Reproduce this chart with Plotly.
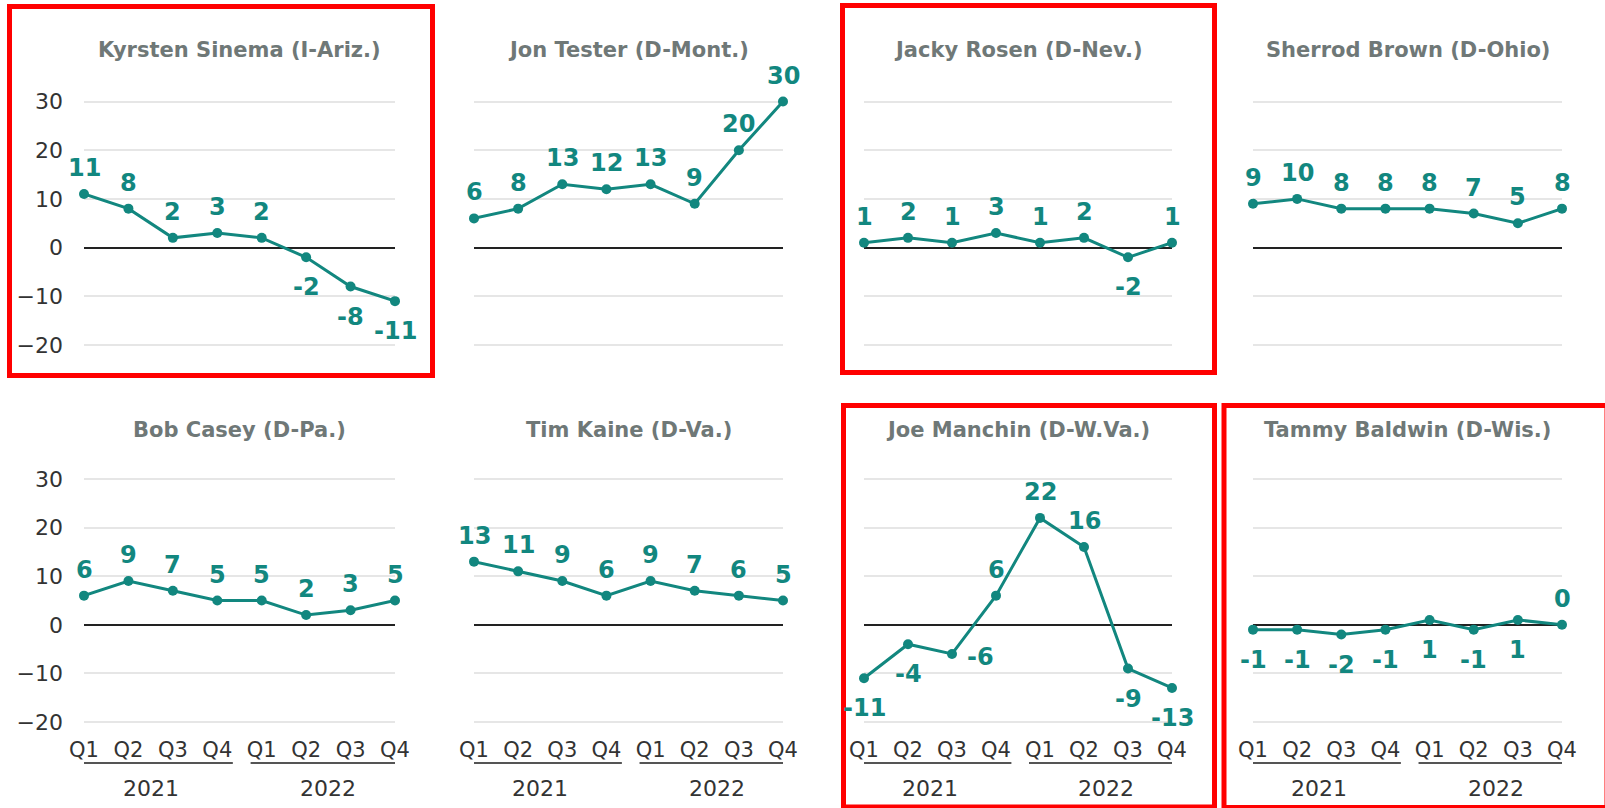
import plotly.graph_objects as go

W, H = 1605, 808

senators = ["Kyrsten Sinema (I-Ariz.)", "Jon Tester (D-Mont.)", "Jacky Rosen (D-Nev.)",
            "Sherrod Brown (D-Ohio)", "Bob Casey (D-Pa.)", "Tim Kaine (D-Va.)",
            "Joe Manchin (D-W.Va.)", "Tammy Baldwin (D-Wis.)"]

sinema = [11, 8, 2, 3, 2, -2, -8, -11]
tester = [6, 8, 13, 12, 13, 9, 20, 30]
rosen = [1, 2, 1, 3, 1, 2, -2, 1]
brown = [9, 10, 8, 8, 8, 7, 5, 8]
casey = [6, 9, 7, 5, 5, 2, 3, 5]
kaine = [13, 11, 9, 6, 9, 7, 6, 5]
manchin = [-11, -4, -6, 6, 22, 16, -9, -13]
baldwin = [-1, -1, -2, -1, 1, -1, 1, 0]

quarters = ["Q1", "Q2", "Q3", "Q4", "Q1", "Q2", "Q3", "Q4"]
years = ["2021", "2022"]
y_ticks = [-20, -10, 0, 10, 20, 30]

# label placement: 't' above, 'b' below, 'r' right
label_pos = [
    list("tttttbbb"),
    list("tttttttt"),
    list("ttttttbt"),
    list("tttttttt"),
    list("tttttttt"),
    list("tttttttt"),
    list("bbrtttbb"),
    list("bbbbbbbt"),
]

series = [sinema, tester, rosen, brown, casey, kaine, manchin, baldwin]

TEAL = "#12877f"
TITLE_GREY = "#6f7877"
FONT = "'DejaVu Sans', 'Open Sans', sans-serif"

col_px = [(84, 395), (474, 783), (864, 1172), (1253, 1562)]
row_px = [(91.8, 354.7), (469.3, 731.7)]  # top, bottom pixel of plot area
title_px = [50, 430]

fig = go.Figure()
layout = dict(
    width=W, height=H, margin=dict(l=0, r=0, t=0, b=0, autoexpand=False),
    paper_bgcolor="white", plot_bgcolor="white", showlegend=False,
    font=dict(family=FONT, color="#333333"),
)
annotations = []
shapes = []

for k, (name, vals) in enumerate(zip(senators, series)):
    r, c = divmod(k, 4)
    n = k + 1
    xa = "x" if n == 1 else f"x{n}"
    ya = "y" if n == 1 else f"y{n}"
    xkey = "xaxis" if n == 1 else f"xaxis{n}"
    ykey = "yaxis" if n == 1 else f"yaxis{n}"
    x0, x1 = col_px[c]
    yt, yb = row_px[r]
    layout[xkey] = dict(
        domain=[x0 / W, x1 / W], anchor=ya, range=[0, 7],
        showgrid=False, zeroline=False, showline=False,
        tickvals=list(range(8)), ticktext=quarters,
        showticklabels=(r == 1), ticks="", ticklabelstandoff=3,
        tickfont=dict(size=21, color="#333333", family=FONT),
        fixedrange=True, automargin=False,
    )
    layout[ykey] = dict(
        domain=[1 - yb / H, 1 - yt / H], anchor=xa, range=[-22, 32],
        tickvals=y_ticks, showgrid=True, gridcolor="#e6e6e6", gridwidth=1.5,
        zeroline=True, zerolinecolor="#222222", zerolinewidth=2,
        showline=False, showticklabels=(c == 0), ticks="",
        ticklabelstandoff=20,
        tickfont=dict(size=22, color="#333333", family=FONT),
        fixedrange=True, automargin=False,
    )
    fig.add_trace(go.Scatter(
        x=list(range(8)), y=vals, mode="lines+markers",
        line=dict(color=TEAL, width=3), marker=dict(color=TEAL, size=10),
        xaxis=xa, yaxis=ya, cliponaxis=False, hoverinfo="skip",
    ))
    # title
    annotations.append(dict(
        text=f"<b>{name}</b>", xref=f"{xa} domain", x=0.5, yref="paper",
        y=1 - title_px[r] / H, showarrow=False, xanchor="center", yanchor="middle",
        font=dict(size=21, color=TITLE_GREY, family=FONT),
    ))
    # data labels
    for i, v in enumerate(vals):
        p = label_pos[k][i]
        if p == "t":
            xs, ys = 0, 26
        elif p == "b":
            xs, ys = 0, -30
        else:
            xs, ys = 28, -3
        annotations.append(dict(
            text=f"<b>{v}</b>", x=i, y=v, xref=xa, yref=ya, showarrow=False,
            xanchor="center", yanchor="middle", xshift=xs, yshift=ys,
            font=dict(size=24, color=TEAL, family=FONT),
        ))
    # year groups
    if r == 1:
        for j, yr in enumerate(years):
            annotations.append(dict(
                text=yr, x=1.5 + 4 * j, xref=xa, y=1 - 788 / H, yref="paper",
                showarrow=False, xanchor="center", yanchor="middle",
                font=dict(size=22, color="#333333", family=FONT),
            ))
            shapes.append(dict(
                type="line", xref=xa, yref="paper", x0=4 * j - 0.25, x1=4 * j + 3.35,
                y0=1 - 763 / H, y1=1 - 763 / H, line=dict(color="#555555", width=2),
            ))

# red highlight boxes (pixel geometry)
boxes = [(9.5, 6.5, 432.5, 375.5), (842.5, 5.5, 1214.5, 372.5),
         (843.5, 405.5, 1214.5, 807.0), (1224.0, 405.5, 1607.0, 807.5)]
for bx0, by0, bx1, by1 in boxes:
    shapes.append(dict(
        type="rect", xref="paper", yref="paper",
        x0=bx0 / W, x1=bx1 / W, y0=1 - by1 / H, y1=1 - by0 / H,
        line=dict(color="#ff0000", width=5), fillcolor="rgba(0,0,0,0)",
    ))

layout["annotations"] = annotations
layout["shapes"] = shapes
fig.update_layout(**layout)
fig.write_html(
    "out.html",
    config={"displayModeBar": False},
    post_script="document.body.style.margin='0';document.body.style.overflow='hidden';",
)
